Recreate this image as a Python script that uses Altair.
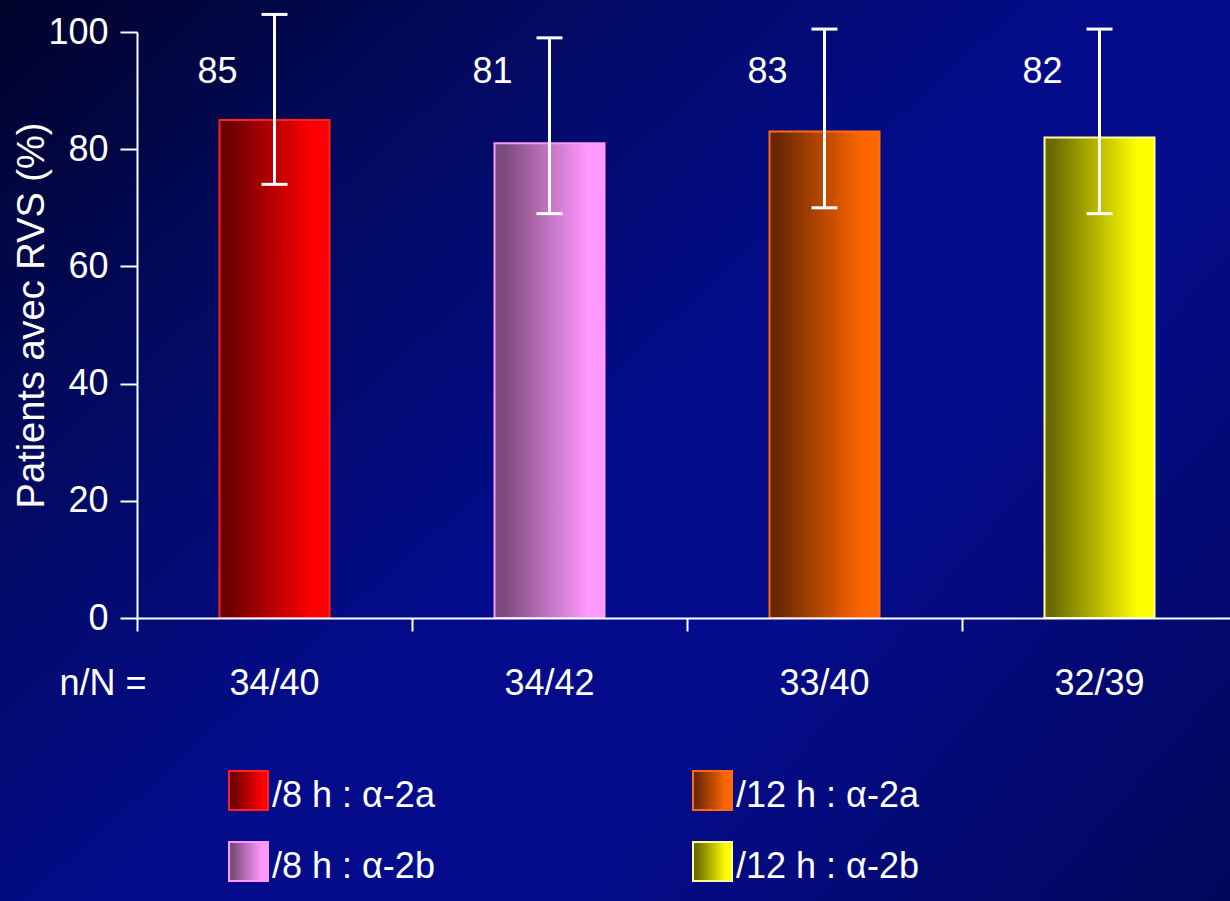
import altair as alt
import pandas as pd

# Sustained virological response (RVS) by dosing schedule and interferon type
groups = ["/8 h : α-2a", "/8 h : α-2b", "/12 h : α-2a", "/12 h : α-2b"]
rvs_pct = [85, 81, 83, 82]
ci_low = [74, 69, 70, 69]
ci_high = [103, 99, 100.5, 100.5]
n_of_N = ["34/40", "34/42", "33/40", "32/39"]
y_ticks = [0, 20, 40, 60, 80, 100]

# horizontal gradient ends (dark -> bright) and outline colour per group
shade_dark = ["#6a0000", "#7a4a7a", "#6a2800", "#6b6b00"]
shade_bright = ["#ff0000", "#ff99ff", "#ff6600", "#ffff00"]
outline = ["#ff2020", "#ff99ff", "#ff6a10", "#ffff99"]

df = pd.DataFrame({"group": groups, "pct": rvs_pct, "low": ci_low,
                   "high": ci_high, "nN": n_of_N})

FONT = "Liberation Sans"
FS = 36
W, H = 1093, 586
PAD_L, PAD_T = 137, 32
TOTAL_W, TOTAL_H = 1230, 901


def h_gradient(dark, bright):
    return alt.LinearGradient(
        gradient="linear", x1=0, x2=1, y1=0, y2=0,
        stops=[alt.GradientStop(color=dark, offset=0),
               alt.GradientStop(color=dark, offset=0.08),
               alt.GradientStop(color=bright, offset=0.85),
               alt.GradientStop(color=bright, offset=1)])


x_axis = alt.Axis(title=None, labels=False, tickBand="extent", ticks=True,
                  tickSize=13, tickWidth=2, tickColor="white",
                  domainColor="white", domainWidth=2, grid=False, zindex=1)
x_enc = alt.X("group:N", sort=groups, axis=x_axis,
              scale=alt.Scale(range=[0, 1100], paddingInner=0, paddingOuter=0))

y_axis = alt.Axis(values=y_ticks, title="Patients avec RVS (%)", grid=False,
                  tickSize=17, tickWidth=2, tickColor="white",
                  domainColor="white", domainWidth=2, zindex=1,
                  labelColor="white", labelFont=FONT, labelFontSize=FS,
                  labelPadding=12,
                  titleColor="white", titleFont=FONT, titleFontSize=38,
                  titleFontWeight="normal", titleAngle=270,
                  titleX=-105, titleY=283, titleAlign="center",
                  titleBaseline="middle")
y_scale = alt.Scale(domain=[0, 100], nice=False)

# full-canvas backdrop
one_row = alt.Data(values=[{"k": 0}])
backdrop_pos = dict(x=alt.value(-PAD_L), x2=alt.value(TOTAL_W - PAD_L),
                    y=alt.value(-PAD_T), y2=alt.value(TOTAL_H - PAD_T))
backdrop = alt.Chart(one_row).mark_rect(
    fill=alt.LinearGradient(
        gradient="linear", x1=0, y1=0, x2=0.55, y2=0.45,
        stops=[alt.GradientStop(color="#00032a", offset=0),
               alt.GradientStop(color="#020a62", offset=0.5),
               alt.GradientStop(color="#040c8c", offset=1)])
).encode(**backdrop_pos)
shade = alt.Chart(one_row).mark_rect(
    fill=alt.LinearGradient(
        gradient="linear", x1=0.6, y1=0.75, x2=1, y2=1,
        stops=[alt.GradientStop(color="rgba(0,0,30,0)", offset=0),
               alt.GradientStop(color="rgba(0,0,30,0.45)", offset=1)])
).encode(**backdrop_pos)

layers = [backdrop, shade]

# bars, each with its own gradient
for i, g in enumerate(groups):
    layers.append(
        alt.Chart(df).transform_filter(alt.datum.group == g).mark_bar(
            width=alt.RelativeBandSize(0.4),
            fill=h_gradient(shade_dark[i], shade_bright[i]),
            stroke=outline[i], strokeWidth=2, opacity=1
        ).encode(x=x_enc, y=alt.Y("pct:Q", scale=y_scale, axis=y_axis))
    )

# error bars
base = alt.Chart(df)
layers.append(base.mark_rule(color="white", strokeWidth=3, opacity=1).encode(
    x=x_enc, y=alt.Y("low:Q", scale=y_scale, axis=y_axis), y2="high:Q"))
for fld in ["low", "high"]:
    layers.append(base.mark_tick(color="white", size=26, thickness=3,
                                 opacity=1).encode(
        x=x_enc, y=alt.Y(f"{fld}:Q", scale=y_scale, axis=y_axis)))

# value labels
layers.append(base.mark_text(font=FONT, fontSize=FS, color="white",
                             baseline="middle", xOffset=-57).encode(
    x=x_enc, y=alt.value(40), text=alt.Text("pct:Q")))

# n/N row
layers.append(base.mark_text(font=FONT, fontSize=FS, color="white",
                             baseline="middle").encode(
    x=x_enc, y=alt.value(652), text="nN:N"))
layers.append(alt.Chart(alt.Data(values=[{"t": "n/N ="}])).mark_text(
    font=FONT, fontSize=FS, color="white", baseline="middle", align="center"
).encode(x=alt.value(-34), y=alt.value(652), text="t:N"))

# legend: 2 x 2 grid of gradient swatches
for i, g in enumerate(groups):
    col, row = i // 2, i % 2
    sx, sy = 92 + col * 464, 739 + row * 71
    sub = alt.Chart(df).transform_filter(alt.datum.group == g)
    layers.append(sub.mark_rect(
        fill=h_gradient(shade_dark[i], shade_bright[i]),
        stroke=outline[i], strokeWidth=2
    ).encode(x=alt.value(sx), x2=alt.value(sx + 39),
             y=alt.value(sy), y2=alt.value(sy + 39)))
    layers.append(sub.mark_text(font=FONT, fontSize=FS, color="white",
                                align="left", baseline="middle").encode(
        x=alt.value(sx + 43), y=alt.value(sy + 25), text="group:N"))

chart = alt.layer(*layers).properties(
    width=W, height=H,
    autosize=alt.AutoSizeParams(type="none"),
    padding={"left": PAD_L, "top": PAD_T, "right": 0, "bottom": TOTAL_H - PAD_T - H},
    background="#020880",
).configure_view(stroke=None)

chart.save("out.html", embed_options={"renderer": "svg", "actions": False})
